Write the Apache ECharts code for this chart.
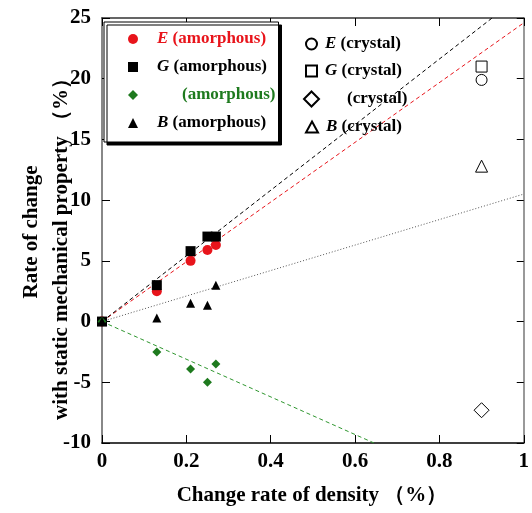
<!DOCTYPE html>
<html>
<head>
<meta charset="utf-8">
<script src="https://cdn.jsdelivr.net/npm/echarts@6/dist/echarts.min.js"></script>
<style>
  html, body { margin: 0; padding: 0; background: #fff; }
  #chart { width: 532px; height: 513px; }
</style>
</head>
<body>
<div id="chart"></div>
<script>
// Change rate of density (%) for the amorphous samples
const density = [0, 0.13, 0.21, 0.25, 0.27];
// Rate of change of static mechanical properties (%), amorphous
const eAmorph = [0, 2.5, 5.0, 5.9, 6.3];
const gAmorph = [0, 3.0, 5.8, 7.0, 7.0];
const nuAmorph = [0, -2.5, -3.9, -5.0, -3.5];
const bAmorph = [0, 0.3, 1.5, 1.35, 3.0];
// Crystal values
const crystalDensity = 0.9;
const eCrystal = 19.9;
const gCrystal = 21.0;
const nuCrystal = -7.3;
const bCrystal = 12.8;
// Trend lines through the origin (end points)
const eTrend = [[0, 0], [1, 24.6]];
const gTrend = [[0, 0], [0.925, 25]];
const nuTrend = [[0, 0], [0.645, -10]];
const bTrend = [[0, 0], [1, 10.5]];
// Axis ticks
const xTicks = { min: 0, max: 1, interval: 0.2 };
const yTicks = { min: -10, max: 25, interval: 5 };

const SERIF = '"Liberation Serif", "Times New Roman", serif';
const RED = '#e8141b';
const GREEN = '#1e7a1e';
const GREEN_LINE = '#2f962f';

const pairs = (xs, ys) => xs.map((x, i) => [x, ys[i]]);

const legendFont = { fontFamily: SERIF, fontWeight: 'bold', fontSize: 17 };
const rich = {
  e: Object.assign({ fontStyle: 'italic' }, legendFont),
  t: Object.assign({}, legendFont),
  s: { width: 14 },
  sn: { width: 39 },
  c: { width: 3 },
  cn: { width: 23 }
};

const amorphNames = ['E (amorphous)', 'G (amorphous)', 'nu (amorphous)', 'B (amorphous)'];
const crystalNames = ['E (crystal)', 'G (crystal)', 'nu (crystal)', 'B (crystal)'];

function legendLabel(name) {
  const sym = name.split(' ')[0];
  const rest = name.slice(name.indexOf(' ') + 1);
  const crystal = name.indexOf('crystal') >= 0;
  if (sym === 'nu') return (crystal ? '{cn|}' : '{sn|}') + '{t|' + rest + '}';
  return (crystal ? '{c|}' : '{s|}') + '{e|' + sym + '}{t| ' + rest + '}';
}

function scatter(name, data, symbol, size, color, open) {
  return {
    type: 'scatter', name: name, data: data, symbol: symbol, symbolSize: size,
    itemStyle: open
      ? { color: '#fff', borderColor: '#000', borderWidth: 1, opacity: 1 }
      : { color: color, opacity: 1 },
    z: 5, silent: true
  };
}

function trend(data, color, type) {
  return {
    type: 'line', data: data, symbol: 'none', silent: true, z: 3,
    lineStyle: { color: color, width: 1, type: type }
  };
}

const chart = echarts.init(document.getElementById('chart'), null, { renderer: 'canvas' });

const crystalTop = [44, 71, 99, 127];
const crystalLegends = crystalNames.map((n, i) => ({
  data: [n], left: 305 - (n.startsWith('nu') ? 2 : 0), top: crystalTop[i] - 10,
  orient: 'vertical', padding: 0,
  itemWidth: n.startsWith('nu') ? 15 : (n.startsWith('B') ? 12 : 11),
  itemHeight: n.startsWith('nu') ? 15 : 11,
  selectedMode: false,
  formatter: legendLabel,
  textStyle: Object.assign({ color: '#000', rich: rich, lineHeight: 20 }, legendFont)
}));

chart.setOption({
  animation: false,
  backgroundColor: '#fff',
  grid: { left: 102, right: 7, top: 18, bottom: 70 },
  xAxis: [{
    type: 'value', min: xTicks.min, max: xTicks.max, interval: xTicks.interval,
    axisLine: { show: true, onZero: false, lineStyle: { color: '#000', width: 1.5 } },
    axisTick: { show: true, inside: true, length: 8, lineStyle: { color: '#000' } },
    splitLine: { show: false },
    axisLabel: { margin: 8, color: '#000', fontFamily: SERIF, fontWeight: 'bold', fontSize: 21 }
  }, {
    type: 'value', position: 'top', min: xTicks.min, max: xTicks.max, interval: xTicks.interval,
    axisLine: { show: true, onZero: false, lineStyle: { color: '#333', width: 1.5 } },
    axisTick: { show: true, inside: true, length: 8, lineStyle: { color: '#000' } },
    axisLabel: { show: false }, splitLine: { show: false }
  }],
  yAxis: [{
    type: 'value', min: yTicks.min, max: yTicks.max, interval: yTicks.interval,
    axisLine: { show: true, onZero: false, lineStyle: { color: '#888', width: 2 } },
    axisTick: { show: true, inside: true, length: 8, lineStyle: { color: '#000' } },
    splitLine: { show: false },
    axisLabel: { margin: 11, color: '#000', fontFamily: SERIF, fontWeight: 'bold', fontSize: 21 }
  }, {
    type: 'value', position: 'right', min: yTicks.min, max: yTicks.max, interval: yTicks.interval,
    axisLine: { show: true, onZero: false, lineStyle: { color: '#777', width: 1.5 } },
    axisTick: { show: true, inside: true, length: 7, lineStyle: { color: '#000' } },
    axisLabel: { show: false }, splitLine: { show: false }
  }],
  legend: [{
    data: [
      { name: amorphNames[0], textStyle: { color: RED } },
      { name: amorphNames[1], textStyle: { color: '#000' } },
      { name: amorphNames[2], textStyle: { color: GREEN } },
      { name: amorphNames[3], textStyle: { color: '#000' } }
    ],
    orient: 'vertical', left: 104, top: 22,
    padding: [7, 3, 9, 24], itemGap: 8, itemWidth: 10, itemHeight: 10,
    selectedMode: false,
    backgroundColor: '#fff', borderColor: '#000', borderWidth: 1,
    shadowColor: '#000', shadowBlur: 0, shadowOffsetX: 3, shadowOffsetY: 3,
    formatter: legendLabel,
    textStyle: Object.assign({ rich: rich, lineHeight: 20 }, legendFont)
  }].concat(crystalLegends),
  series: [
    trend(eTrend, RED, [4, 3]),
    trend(gTrend, '#000', [4, 3]),
    trend(nuTrend, GREEN_LINE, [4, 3]),
    trend(bTrend, '#555', [1, 2]),
    scatter(amorphNames[0], pairs(density, eAmorph), 'circle', 10, RED),
    scatter(amorphNames[1], pairs(density, gAmorph), 'rect', 10, '#000'),
    scatter(amorphNames[2], pairs(density, nuAmorph), 'diamond', 9, GREEN),
    scatter(amorphNames[3], pairs(density, bAmorph), 'triangle', 9, '#000'),
    scatter(crystalNames[0], [[crystalDensity, eCrystal]], 'circle', 11, '#000', true),
    scatter(crystalNames[1], [[crystalDensity, gCrystal]], 'rect', 11, '#000', true),
    scatter(crystalNames[2], [[crystalDensity, nuCrystal]], 'diamond', 15, '#000', true),
    scatter(crystalNames[3], [[crystalDensity, bCrystal]], 'triangle', 12, '#000', true)
  ],
  graphic: [
    {
      type: 'text', x: 312, y: 496,
      style: {
        text: 'Change rate of density （%）', fill: '#000',
        font: 'bold 21px ' + SERIF, align: 'center', verticalAlign: 'middle'
      }
    },
    {
      type: 'text', rotation: Math.PI / 2, x: 32, y: 232,
      style: { text: 'Rate of change', fill: '#000', font: 'bold 21px ' + SERIF, align: 'center', verticalAlign: 'middle' }
    },
    {
      type: 'text', rotation: Math.PI / 2, x: 62, y: 244,
      style: { text: 'with static mechanical property （%）', fill: '#000', font: 'bold 21px ' + SERIF, align: 'center', verticalAlign: 'middle' }
    }
  ]
});
</script>
</body>
</html>
